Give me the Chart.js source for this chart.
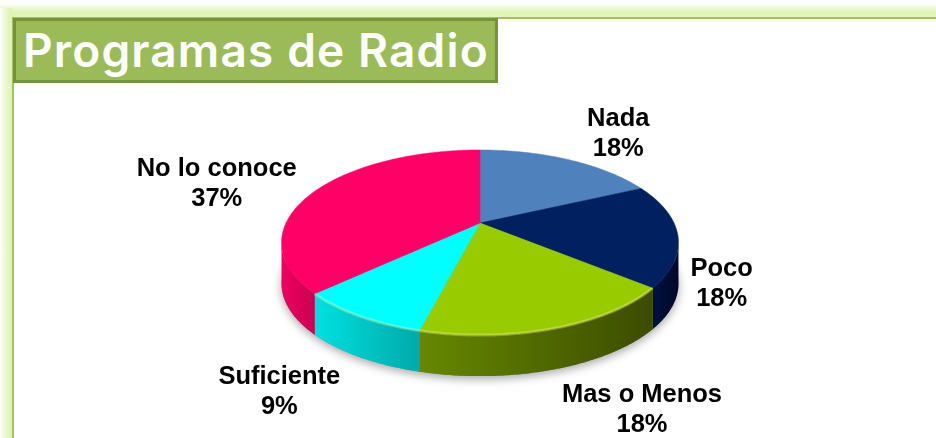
<!DOCTYPE html>
<html>
<head>
<meta charset="utf-8">
<style>
  html, body { margin: 0; padding: 0; background: #fff; }
  #page { position: relative; width: 936px; height: 438px; overflow: hidden; }
  #topBand { position: absolute; left: 0; top: 0; width: 936px; height: 17px; background: linear-gradient(#fff 0, #fdfef8 4px, #dff3b6 12px, #e2f4bc 17px); }
  #leftBand { position: absolute; left: 0; top: 8px; width: 12px; height: 430px; background: linear-gradient(90deg, #fff 0, #f3fbe2 3px, #dff3b6 10px); }
  #topLine { position: absolute; left: 12px; top: 17px; width: 924px; height: 2px; background: #a3c162; }
  #leftLine { position: absolute; left: 12px; top: 17px; width: 2px; height: 421px; background: #a3c162; }
  #title { position: absolute; left: 13px; top: 18px; width: 479px; height: 59px; border: 3px solid #76923c; background: #9bbb59; color: #fff; font: 600 46px Inter, sans-serif; letter-spacing: 1.15px; line-height: 59px; text-indent: 7px; white-space: nowrap; }
  canvas { position: absolute; left: 0; top: 0; }
</style>
</head>
<body>
<div id="page">
  <div id="topBand"></div>
  <div id="leftBand"></div>
  <div id="topLine"></div>
  <div id="leftLine"></div>
  <div id="title">Programas de Radio</div>
  <canvas id="pieChart" width="936" height="438"></canvas>
</div>
<script src="https://cdn.jsdelivr.net/npm/chart.js@4"></script>
<script>
const categories = ['Nada', 'Poco', 'Mas o Menos', 'Suficiente', 'No lo conoce'];
const percents = [18, 18, 18, 9, 37];
const sliceColors = ['#4f81bd', '#002060', '#99cc00', '#00ffff', '#ff0066'];
const wallColors = [
  ['#3a6090', '#3a6090'],
  ['#001040', '#000828'],
  ['#668800', '#3c4c00'],
  ['#00e0e0', '#00aaaa'],
  ['#f00060', '#c80052'],
];
// where each label sits relative to the rim point of its slice
const labelOffsets = [[50, -26], [44, 50], [87, 82], [-80, 76], [-99, -7]];

// tilt of the pie: the chart's round pie gets projected on to a flat ellipse
const squash = 0.456;
const perspective = 0.211;
const depth = 41;

function project(arc, angle) {
  const u = Math.cos(angle);
  const v = Math.sin(angle);
  const d = 1 - perspective * v;
  return { x: arc.x + arc.outerRadius * u / d, y: arc.y + arc.outerRadius * squash * v / d };
}

function rimPoints(arc) {
  const points = [];
  const steps = Math.ceil((arc.endAngle - arc.startAngle) / 0.01);
  for (let i = 0; i <= steps; i++) {
    points.push(project(arc, arc.startAngle + (arc.endAngle - arc.startAngle) * i / steps));
  }
  return points;
}

const tiltedPie = {
  id: 'tiltedPie',
  beforeDatasetsDraw(chart) {
    const ctx = chart.ctx;
    const arcs = chart.getDatasetMeta(0).data;
    const widest = arcs[0].outerRadius * squash * 0.215;

    // soft shadow under the pie
    ctx.save();
    ctx.shadowColor = 'rgba(0,0,0,0.35)';
    ctx.shadowBlur = 10;
    ctx.shadowOffsetY = 3;
    ctx.fillStyle = '#888';
    ctx.beginPath();
    arcs.forEach((arc) => rimPoints(arc).forEach((p) => ctx.lineTo(p.x, p.y + depth)));
    ctx.closePath();
    ctx.fill();
    ctx.restore();

    // side wall, only the part of the rim facing the viewer
    arcs.forEach((arc, index) => {
      const front = rimPoints(arc).filter((p) => p.y - arc.y > widest);
      if (!front.length) return;
      const xs = front.map((p) => p.x);
      const gradient = ctx.createLinearGradient(Math.min(...xs), 0, Math.max(...xs), 0);
      gradient.addColorStop(0, wallColors[index][0]);
      gradient.addColorStop(1, wallColors[index][1]);
      ctx.fillStyle = gradient;
      ctx.beginPath();
      front.forEach((p) => ctx.lineTo(p.x, p.y));
      front.slice().reverse().forEach((p) => ctx.lineTo(p.x, p.y + depth));
      ctx.closePath();
      ctx.fill();
    });

    // top face
    arcs.forEach((arc) => {
      ctx.fillStyle = arc.options.backgroundColor;
      ctx.strokeStyle = arc.options.backgroundColor;
      ctx.lineWidth = 0.5;
      ctx.beginPath();
      ctx.moveTo(arc.x, arc.y);
      rimPoints(arc).forEach((p) => ctx.lineTo(p.x, p.y));
      ctx.closePath();
      ctx.fill();
      ctx.stroke();
    });

    // light bevel along the front edge of the top face
    ctx.strokeStyle = 'rgba(255,255,160,0.3)';
    ctx.lineWidth = 3;
    arcs.slice(2, 4).forEach((arc) => {
      ctx.beginPath();
      rimPoints(arc).forEach((p) => ctx.lineTo(p.x, p.y));
      ctx.stroke();
    });

    // labels
    ctx.fillStyle = '#000';
    ctx.font = 'bold 25.5px "Liberation Sans", sans-serif';
    ctx.textAlign = 'center';
    ctx.textBaseline = 'middle';
    arcs.forEach((arc, index) => {
      const rim = project(arc, (arc.startAngle + arc.endAngle) / 2);
      const x = rim.x + labelOffsets[index][0];
      const y = rim.y + labelOffsets[index][1];
      ctx.fillText(categories[index], x, y - 15);
      ctx.fillText(percents[index] + '%', x, y + 15);
    });
    return false;
  },
};

new Chart(document.getElementById('pieChart').getContext('2d'), {
  type: 'pie',
  data: {
    labels: categories,
    datasets: [{ data: percents, backgroundColor: sliceColors, borderWidth: 0 }],
  },
  options: {
    responsive: false,
    animation: false,
    events: [],
    layout: { padding: { left: 286, right: 262, top: 29, bottom: 21 } },
    plugins: { legend: { display: false }, tooltip: { enabled: false } },
  },
  plugins: [tiltedPie],
});
</script>
</body>
</html>
